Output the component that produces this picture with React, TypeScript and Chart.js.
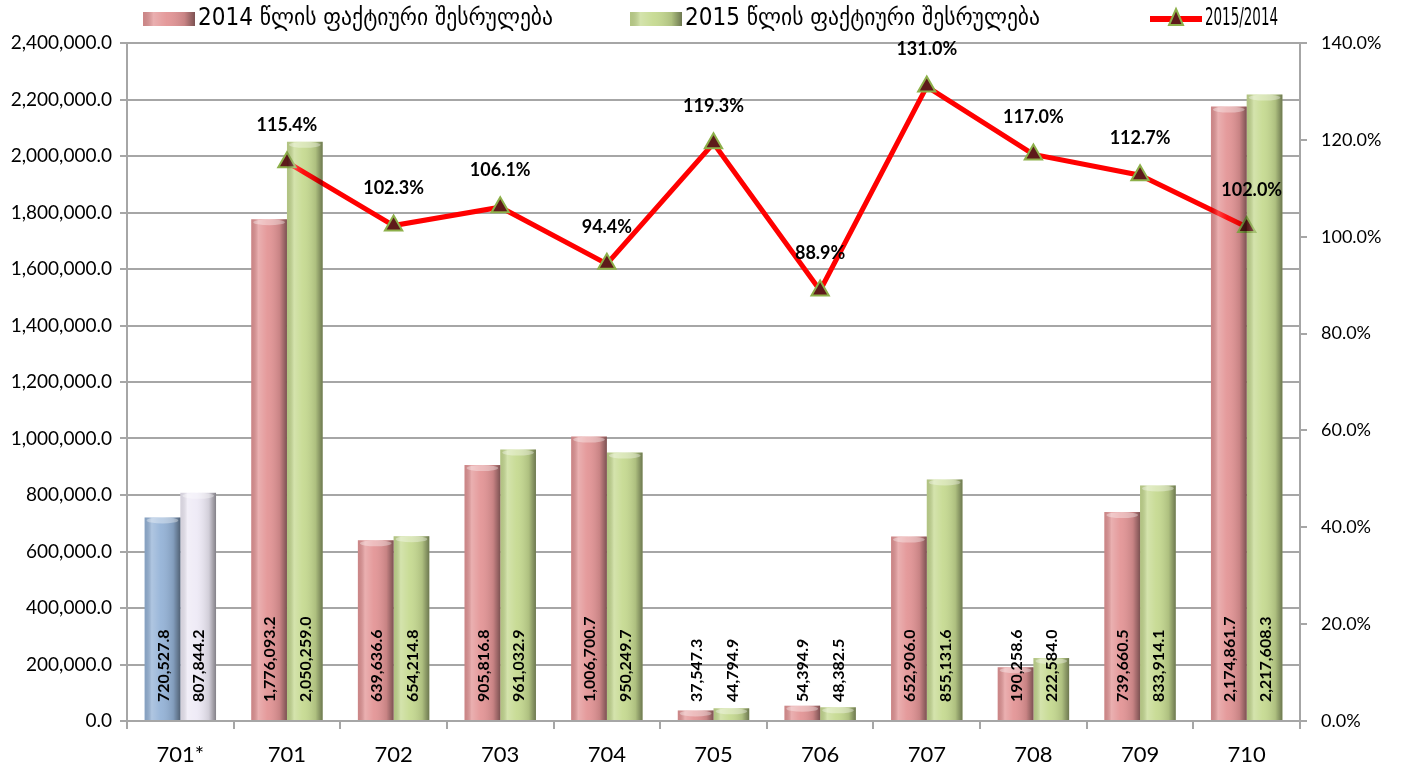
import React, { useEffect, useRef } from "react";
import { Chart, registerables } from "chart.js";

Chart.register(...registerables);

const categories = ["701*", "701", "702", "703", "704", "705", "706", "707", "708", "709", "710"];
const values2014 = [720527.8, 1776093.2, 639636.6, 905816.8, 1006700.7, 37547.3, 54394.9, 652906.0, 190258.6, 739660.5, 2174861.7];
const values2015 = [807844.2, 2050259.0, 654214.8, 961032.9, 950249.7, 44794.9, 48382.5, 855131.6, 222584.0, 833914.1, 2217608.3];
const ratio = [null, 115.4, 102.3, 106.1, 94.4, 119.3, 88.9, 131.0, 117.0, 112.7, 102.0];
const seriesNames = ["2014 წლის ფაქტიური შესრულება", "2015 წლის ფაქტიური შესრულება", "2015/2014"];

const PINK = "#E39596";
const GREEN = "#C6DA91";
const BLUE = "#95B3D7";
const LAVENDER = "#EEEAF6";
const RED = "#FF0000";
const TRI_FILL = "#5E1A1A";
const TRI_BORDER = "#8DB04A";
const GRID = "#a6a6a6";
const NUM_FONT = "Lato, 'Open Sans', sans-serif";
const GEO_FONT = "'DejaVu Sans Condensed', 'DejaVu Sans', sans-serif";
const NARROW_FONT = "'Liberation Sans Narrow', 'DejaVu Sans Condensed', sans-serif";

const fmtNum = (v: number) =>
  v.toLocaleString("en-US", { minimumFractionDigits: 1, maximumFractionDigits: 1 });

function shade(ctx: CanvasRenderingContext2D, x0: number, y0: number, w: number, h: number) {
  const g = ctx.createLinearGradient(x0, 0, x0 + w, 0);
  g.addColorStop(0, "rgba(0,0,0,0.10)");
  g.addColorStop(0.2, "rgba(255,255,255,0.25)");
  g.addColorStop(0.45, "rgba(255,255,255,0.05)");
  g.addColorStop(0.8, "rgba(0,0,0,0.12)");
  g.addColorStop(1, "rgba(0,0,0,0.45)");
  ctx.fillStyle = g;
  ctx.fillRect(x0, y0, w, h);
}

const barDecor = {
  id: "barDecor",
  afterDatasetsDraw(chart: any) {
    const ctx = chart.ctx as CanvasRenderingContext2D;
    [0, 1].forEach((di) => {
      const meta = chart.getDatasetMeta(di);
      meta.data.forEach((el: any) => {
        const w = el.width;
        const x0 = el.x - w / 2;
        const top = el.y;
        const h = el.base - el.y;
        ctx.save();
        shade(ctx, x0, top, w, h);
        ctx.fillStyle = "rgba(255,255,255,0.35)";
        ctx.beginPath();
        ctx.ellipse(el.x, top + 3, w / 2 - 2, 3, 0, 0, Math.PI * 2);
        ctx.fill();
        ctx.restore();
      });
    });
    [0, 1].forEach((di) => {
      const meta = chart.getDatasetMeta(di);
      const vals = chart.data.datasets[di].data;
      meta.data.forEach((el: any, i: number) => {
        ctx.save();
        ctx.translate(el.x, el.base - 18);
        ctx.rotate(-Math.PI / 2);
        ctx.font = `bold 16px ${NUM_FONT}`;
        ctx.fillStyle = "#000";
        ctx.textAlign = "left";
        ctx.textBaseline = "middle";
        ctx.fillText(fmtNum(vals[i]), 0, 1);
        ctx.restore();
      });
    });
    const lm = chart.getDatasetMeta(2);
    lm.data.forEach((el: any, i: number) => {
      const v = ratio[i];
      if (v == null) return;
      ctx.save();
      ctx.font = `bold 18px ${NUM_FONT}`;
      ctx.fillStyle = "#000";
      ctx.textAlign = "center";
      ctx.textBaseline = "middle";
      ctx.fillText(v.toFixed(1) + "%", el.x + (i === 10 ? 5 : 0), el.y - 37);
      ctx.restore();
    });
  },
};

const legendDecor = {
  id: "legendDecor",
  afterDraw(chart: any) {
    const ctx = chart.ctx as CanvasRenderingContext2D;
    const cy = 19;
    const items = [
      { x: 143, color: PINK, kind: "box", text: seriesNames[0], tw: 378, font: GEO_FONT },
      { x: 630, color: GREEN, kind: "box", text: seriesNames[1], tw: 378, font: GEO_FONT },
      { x: 1150, color: RED, kind: "line", text: seriesNames[2], tw: 73, font: NARROW_FONT },
    ];
    items.forEach((it) => {
      ctx.save();
      if (it.kind === "box") {
        ctx.fillStyle = it.color;
        ctx.fillRect(it.x, cy - 7, 52, 14);
        shade(ctx, it.x, cy - 7, 52, 14);
      } else {
        ctx.strokeStyle = RED;
        ctx.lineWidth = 6;
        ctx.beginPath();
        ctx.moveTo(it.x, cy);
        ctx.lineTo(it.x + 52, cy);
        ctx.stroke();
        ctx.fillStyle = TRI_FILL;
        ctx.strokeStyle = TRI_BORDER;
        ctx.lineWidth = 2;
        ctx.beginPath();
        ctx.moveTo(it.x + 26, cy - 10);
        ctx.lineTo(it.x + 33, cy + 6);
        ctx.lineTo(it.x + 19, cy + 6);
        ctx.closePath();
        ctx.fill();
        ctx.stroke();
      }
      ctx.fillStyle = "#000";
      ctx.font = `24px ${it.font}`;
      ctx.textAlign = "left";
      ctx.textBaseline = "middle";
      const w = ctx.measureText(it.text).width;
      const sx = Math.min(1, it.tw / w);
      ctx.translate(it.x + 55, cy);
      ctx.scale(sx, 1);
      ctx.fillText(it.text, 0, 0);
      ctx.restore();
    });
  },
};

export default function App() {
  const ref = useRef<HTMLCanvasElement>(null);
  useEffect(() => {
    if (!ref.current) return;
    const chart = new Chart(ref.current, {
      type: "bar",
      data: {
        labels: categories,
        datasets: [
          {
            type: "bar",
            label: seriesNames[0],
            data: values2014,
            backgroundColor: values2014.map((_, i) => (i === 0 ? BLUE : PINK)),
            yAxisID: "y",
            order: 1,
            categoryPercentage: 0.67,
            barPercentage: 1,
          },
          {
            type: "bar",
            label: seriesNames[1],
            data: values2015,
            backgroundColor: values2015.map((_, i) => (i === 0 ? LAVENDER : GREEN)),
            yAxisID: "y",
            order: 1,
            categoryPercentage: 0.67,
            barPercentage: 1,
          },
          {
            type: "line",
            label: seriesNames[2],
            data: ratio as any,
            borderColor: RED,
            borderWidth: 5,
            pointStyle: "triangle",
            pointRadius: 10,
            pointBackgroundColor: TRI_FILL,
            pointBorderColor: TRI_BORDER,
            pointBorderWidth: 2,
            yAxisID: "y1",
            order: 0,
            tension: 0,
          } as any,
        ],
      },
      options: {
        responsive: false,
        animation: false,
        layout: { padding: { top: 43, left: 0, right: 0, bottom: 0 } },
        plugins: { legend: { display: false }, tooltip: { enabled: false } },
        scales: {
          x: {
            grid: { display: true, offset: true, drawOnChartArea: false, color: GRID, lineWidth: 2, tickLength: 8 },
            border: { color: GRID, width: 2 },
            ticks: { color: "#000", font: { family: NUM_FONT, size: 22 }, padding: 13 },
            afterFit: (s: any) => { s.height = 48; },
          },
          y: {
            position: "left",
            min: 0,
            max: 2400000,
            ticks: {
              stepSize: 200000,
              color: "#000",
              font: { family: NUM_FONT, size: 19 },
              padding: 8,
              callback: (v: any) => fmtNum(Number(v)),
            },
            grid: { color: GRID, lineWidth: 2, tickLength: 7 },
            border: { color: GRID, width: 2 },
            afterFit: (s: any) => { s.width = 127; },
          },
          y1: {
            position: "right",
            min: 0,
            max: 140,
            ticks: {
              stepSize: 20,
              color: "#000",
              font: { family: NUM_FONT, size: 18 },
              padding: 14,
              callback: (v: any) => Number(v).toFixed(1) + "%",
            },
            grid: { drawOnChartArea: false, color: GRID, lineWidth: 2, tickLength: 7 },
            border: { color: GRID, width: 2 },
            afterFit: (s: any) => { s.width = 101; },
          },
        },
      },
      plugins: [barDecor, legendDecor],
    });
    return () => chart.destroy();
  }, []);
  return (
    <div style={{ position: "absolute", left: 0, top: 0, width: 1401, height: 769, background: "#fff" }}>
      <canvas ref={ref} width={1401} height={769} />
    </div>
  );
}
